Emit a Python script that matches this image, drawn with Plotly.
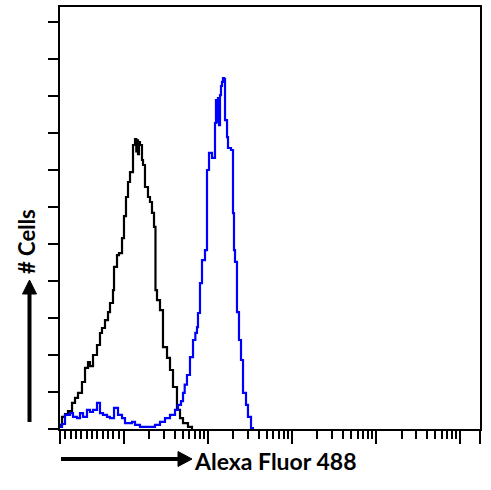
import math
import plotly.graph_objects as go

# ---- data (channel units 0-1024 on x, cell counts on y) ----
control_channel = [0, 4.9, 12.2, 19.5, 29.3, 36.6, 43.9, 53.6, 61.0, 68.3, 73.1, 80.5, 90.2,
                   97.5, 102.4, 109.7, 117.0, 121.9, 129.2, 131.7, 139.0, 143.8, 151.2, 156.0,
                   160.9, 165.8, 170.7, 178.0, 182.9, 186.0, 188.0, 190.2, 192.5, 195.0, 199.9,
                   202.4, 207.2, 214.5, 219.4, 224.3, 229.2, 232.8, 236.5, 243.8, 251.1, 260.9,
                   268.2, 275.5, 285.2, 292.6, 299.9, 312.0, 321.8]
control_counts = [2.2, 6.5, 8.1, 9.7, 14.1, 16.8, 19.5, 25.4, 33.0, 36.2, 34.0, 40.0, 45.4,
                  51.9, 54.6, 58.9, 63.2, 68.1, 75.1, 87.6, 94.0, 95.1, 103.2, 115.1,
                  125.4, 133.5, 138.9, 153.5, 156.7, 150.0, 156.0, 148.5, 155.1, 153.5, 145.4,
                  142.7, 130.8, 125.4, 122.7, 116.8, 109.2, 75.1, 69.7, 64.3, 44.3, 38.4,
                  31.9, 22.7, 10.3, 5.9, 3.2, 1.1, 0.0]

stained_channel = [0, 4.9, 12.2, 17.1, 24.4, 31.7, 41.4, 48.8, 56.1, 65.8, 73.1, 80.5, 90.2,
                   97.5, 104.8, 114.6, 121.9, 131.7, 141.4, 151.2, 158.5, 165.8, 175.5, 182.9,
                   195.0, 214.5, 231.6, 243.8, 256.0, 268.2, 280.4, 287.7, 295.0, 299.9, 304.0,
                   309.6, 316.9, 324.3, 330.0, 334.0, 336.4, 341.3, 346.2, 353.5, 358.4, 363.3,
                   370.6, 377.9, 380.3, 382.8, 385.2, 387.6, 390.1, 392.5, 395.0, 397.4, 399.8,
                   402.3, 407.2, 409.6, 416.9, 421.8, 424.2, 426.7, 431.5, 436.4, 441.3, 446.2,
                   453.5, 458.3, 465.7, 470.5]
stained_counts = [1.1, 2.7, 7.6, 7.6, 8.6, 6.5, 5.9, 8.6, 6.5, 10.3, 9.2, 10.3, 14.1,
                  8.6, 7.6, 6.5, 5.9, 11.4, 7.6, 5.9, 3.2, 3.2, 3.8, 2.2,
                  1.1, 1.1, 2.2, 3.8, 5.9, 7.6, 10.3, 13.0, 15.1, 19.5, 24.0,
                  29.2, 38.9, 48.1, 52.0, 55.1, 62.7, 78.9, 91.3, 96.7, 140.0, 149.2,
                  146.5, 165.4, 177.8, 165.9, 178.9, 164.3, 180.5, 185.4, 187.6, 189.7, 189.2,
                  167.0, 157.8, 151.9, 150.8, 116.7, 96.7, 90.3, 63.2, 48.1, 37.3, 19.5,
                  13.0, 6.5, 0.5, 0.0]

# axis scale description (biexponential display: linear segment then log decades)
linear_segment_end = 156.0
decade_width = 205.0
n_decades = 4
linear_minor_steps = 12
y_tick_step = 20
y_max = 228.1
x_max = 1024

major_x = [0.0] + [linear_segment_end + i * decade_width for i in range(n_decades + 1)] + [x_max]
minor_x = [linear_segment_end * k / linear_minor_steps for k in range(1, linear_minor_steps)]
for d in range(n_decades):
    start = linear_segment_end + d * decade_width
    for k in range(2, 10):
        minor_x.append(start + math.log10(k) * decade_width)

fig = go.Figure()
fig.add_trace(go.Scatter(x=control_channel, y=control_counts, mode="lines",
                         line=dict(color="black", width=2.2, shape="hv"), name="Control"))
fig.add_trace(go.Scatter(x=stained_channel, y=stained_counts, mode="lines",
                         line=dict(color="#0000ff", width=2.2, shape="hv"), name="Alexa Fluor 488"))

W, H = 491, 490
L, R, T, B = 60, 11, 7, 61
pw, ph = W - L - R, H - T - B


def px(xp):
    return (xp - L) / pw


def py(yp):
    return (T + ph - yp) / ph


shapes = [
    dict(type="line", xref="paper", yref="paper", x0=px(29.5), x1=px(29.5), y0=py(422), y1=py(292),
         line=dict(color="black", width=4)),
    dict(type="path", xref="paper", yref="paper",
         path=f"M {px(29.5)},{py(280)} L {px(22.5)},{py(294)} L {px(36.5)},{py(294)} Z",
         fillcolor="black", line=dict(color="black", width=1)),
    dict(type="line", xref="paper", yref="paper", x0=px(61), x1=px(180), y0=py(459), y1=py(459),
         line=dict(color="black", width=4)),
    dict(type="path", xref="paper", yref="paper",
         path=f"M {px(192)},{py(459)} L {px(178)},{py(451.5)} L {px(178)},{py(466.5)} Z",
         fillcolor="black", line=dict(color="black", width=1)),
]

annotations = [
    dict(text="<b># Cells</b>", xref="paper", yref="paper", x=px(27), y=py(242),
         xanchor="center", yanchor="middle",
         textangle=-90, showarrow=False, font=dict(family="Lato", size=22, color="black")),
    dict(text="<b>Alexa Fluor 488</b>", xref="paper", yref="paper", x=px(274.5), y=py(461),
         xanchor="center", yanchor="middle",
         showarrow=False, font=dict(family="Lato", size=23, color="black")),
]

fig.update_layout(
    width=W, height=H,
    margin=dict(l=L, r=R, t=T, b=B),
    paper_bgcolor="white", plot_bgcolor="white",
    showlegend=False,
    shapes=shapes, annotations=annotations,
    xaxis=dict(range=[0, x_max], showgrid=False, zeroline=False, automargin=False,
               showline=True, linecolor="black", linewidth=2, mirror=True,
               tickmode="array", tickvals=major_x, ticktext=[""] * len(major_x),
               ticks="outside", ticklen=13, tickwidth=2, tickcolor="black",
               minor=dict(tickmode="array", tickvals=minor_x, ticks="outside",
                          ticklen=8, tickwidth=2, tickcolor="black", showgrid=False)),
    yaxis=dict(range=[0, y_max], showgrid=False, zeroline=False, automargin=False,
               showline=True, linecolor="black", linewidth=2, mirror=True,
               tickmode="array", tickvals=list(range(0, 221, y_tick_step)),
               ticktext=[""] * 12,
               ticks="outside", ticklen=10, tickwidth=2, tickcolor="black"),
)

fig.write_html("out.html", config={"displayModeBar": False},
               post_script="document.body.style.margin='0';document.body.style.overflow='hidden';")
